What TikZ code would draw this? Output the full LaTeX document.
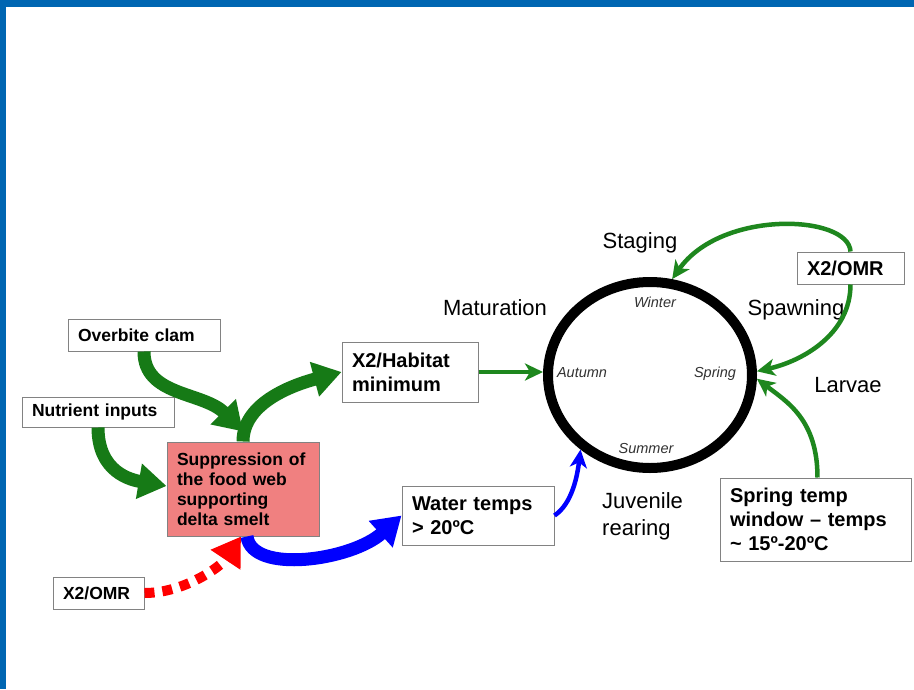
\documentclass[tikz,border=0pt]{standalone}
\usepackage{fontspec}
\setmainfont{Liberation Sans}
\usetikzlibrary{arrows.meta,shapes.geometric,calc}
\definecolor{frameblue}{RGB}{0,102,178}
\definecolor{dgreen}{RGB}{22,122,22}
\definecolor{tgreen}{RGB}{30,135,30}
\definecolor{boxsalmon}{RGB}{240,128,128}
\definecolor{boxgray}{RGB}{130,130,130}
\definecolor{seasongray}{RGB}{50,50,50}
\begin{document}
\begin{tikzpicture}[x=1pt,y=-1pt,
  box/.style={draw=boxgray, line width=1pt, fill=white, align=left, inner xsep=10pt, inner ysep=0pt},
  txtS/.style={font=\fontsize{17.5}{20}\selectfont\bfseries},
  txtL/.style={font=\fontsize{20}{24}\selectfont\bfseries},
  labtxt/.style={font=\fontsize{22}{27}\selectfont, anchor=base, inner sep=0pt},
  seasontxt/.style={font=\fontsize{14.5}{17}\selectfont\itshape, text=seasongray, anchor=base, inner sep=0pt},
  fatline/.style={line width=13pt},
  fathead/.style={-{Triangle[width=34pt,length=28pt]}},
  thinarrow/.style={line width=4.5pt, -{Stealth[length=18pt,width=17pt,inset=5pt]}},
]
\useasboundingbox (0,0) rectangle (914,689);
\fill[white] (0,0) rectangle (914,689);
\fill[frameblue] (0,0) rectangle (914,7);
\fill[frameblue] (0,0) rectangle (6,689);

% boxes
\node[box,txtS,text width=132pt,minimum height=32pt] (clam) at (144,335) {Overbite clam};
\node[box,txtS,text width=132pt,minimum height=30pt] (nutr) at (98,412) {Nutrient inputs};
\node[box,txtS,fill=boxsalmon,text width=132pt,minimum height=94pt] (supp) at (243,489) {Suppression of\\the food web\\supporting\\delta smelt};
\node[box,txtS,text width=71pt,minimum height=32pt] (omrL) at (98.5,593) {X2/OMR};
\node[box,txtL,text width=116pt,minimum height=60pt] (hab) at (410,372) {X2/Habitat\\minimum};
\node[box,txtL,text width=132pt,minimum height=59pt] (water) at (478,515.5) {Water temps\\> 20ºC};
\node[box,txtL,text width=87pt,minimum height=32pt] (omrR) at (850.5,268) {X2/OMR};
\node[box,txtL,text width=171pt,minimum height=83pt] (spring) at (815.5,519.5) {Spring temp\\window – temps\\\textasciitilde{} 15º-20ºC};

% life cycle ring
\node[ellipse, draw=black, line width=10pt, minimum width=204pt, minimum height=186pt, outer sep=5pt, inner sep=0pt] (cycle) at (650,375) {};

% labels
\node[labtxt] (staging) at (640,248) {Staging};
\node[labtxt] (matur) at (495,315) {Maturation};
\node[labtxt] (spawn) at (796,315) {Spawning};
\node[labtxt] (larvae) at (848,392) {Larvae};
\node[labtxt, align=left, anchor=west] (juv) at (602,516) {Juvenile\\rearing};
\node[seasontxt] (winter) at (655,307) {Winter};
\node[seasontxt] (autumn) at (582,377) {Autumn};
\node[seasontxt] (springs) at (715,377) {Spring};
\node[seasontxt] (summer) at (646,453) {Summer};

% fat arrows
\draw[fatline,dgreen,fathead] (clam.south) .. controls +(0,45) and +(-40,-40) .. ([yshift=10pt]supp.north);
\draw[fatline,dgreen,fathead] (nutr.south) .. controls +(0,45) and +(-35,-6) .. ([yshift=3pt]supp.west);
\draw[fatline,dgreen,fathead] (supp.north) .. controls +(0,-40) and +(-45,12) .. (hab.west);
\draw[fatline,blue,fathead] ([xshift=4pt]supp.south) .. controls +(5,38) and +(-50,45) .. (water.west);
\draw[line width=10pt,red,dash pattern=on 10pt off 8pt,fathead] (omrL.east) .. controls +(40,0) and +(-20,30) .. ([xshift=-2pt]supp.south);

% thin arrows
\draw[thinarrow,tgreen] (hab.east) -- (hab.east -| cycle.west);
\draw[thinarrow,blue] (water.east) .. controls +(18,-12) and +(-3,25) .. (cycle.227);
\draw[thinarrow,tgreen] (omrR.north) .. controls +(-2,-37) and +(49,-70) .. (cycle.77);
\draw[thinarrow,tgreen] (omrR.south) .. controls +(0,50) and +(45,-10) .. (cycle.2);
\draw[thinarrow,tgreen] ([xshift=2pt]spring.north) .. controls +(0,-58) and +(30,23) .. (cycle.-2);
\end{tikzpicture}
\end{document}
